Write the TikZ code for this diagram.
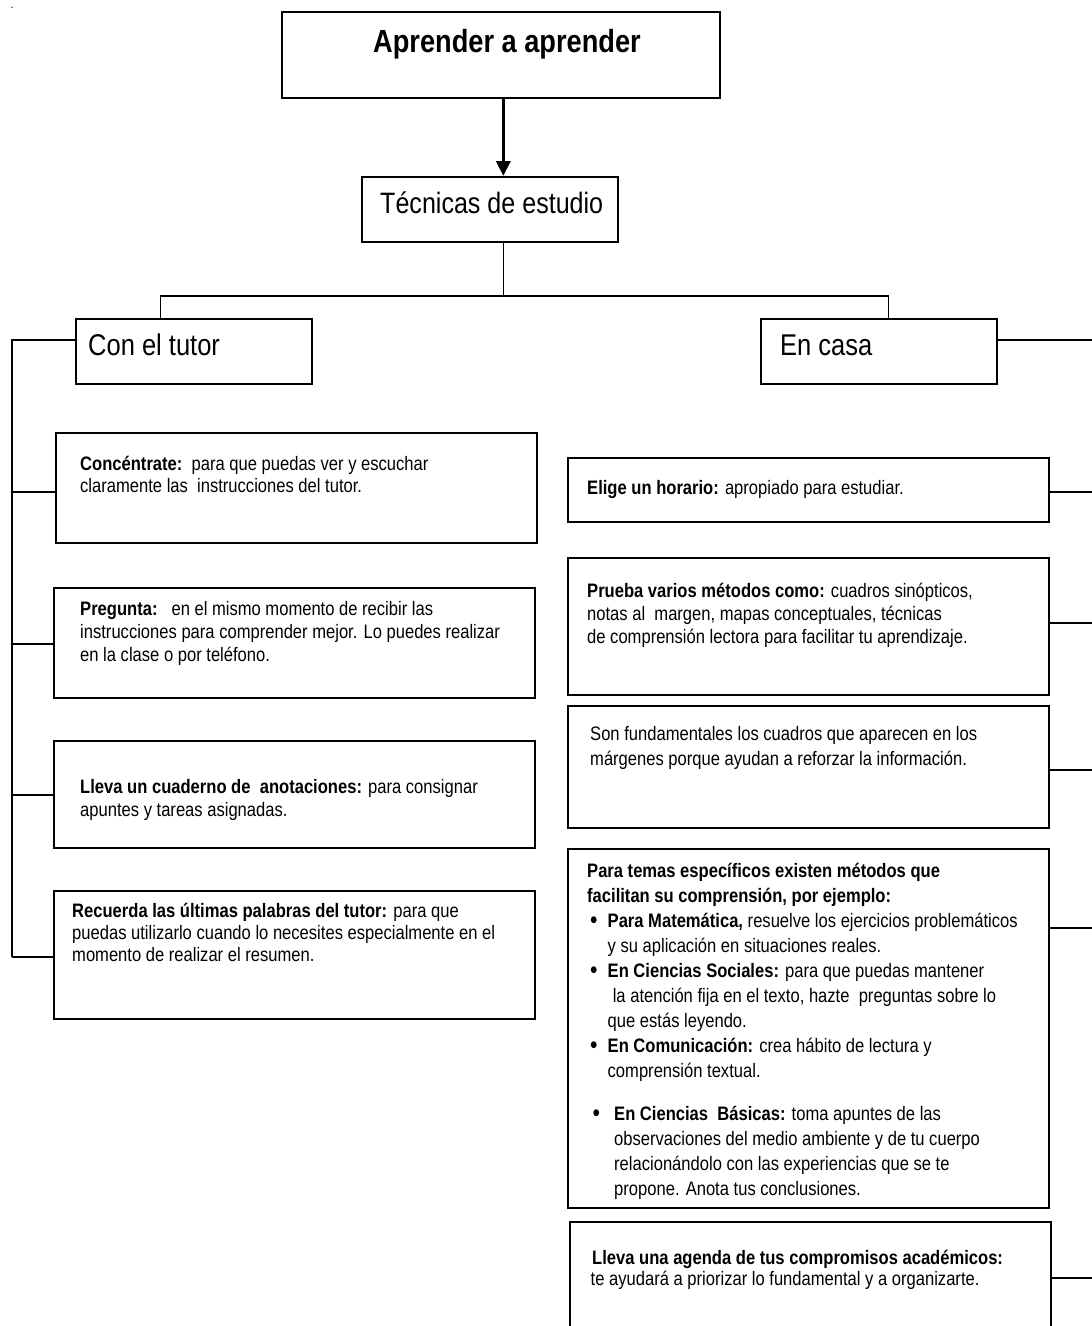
\documentclass[tikz,border=0pt]{standalone}
\usepackage{fontspec}
\setmainfont{Liberation Sans}[FakeStretch=0.85]
\usetikzlibrary{arrows.meta}
\newcommand\fs{\rule{0pt}{20pt}}
\newcommand\bul{\raisebox{-1.5pt}{\fontsize{25pt}{25pt}\selectfont\textbullet}}
\begin{document}
\begin{tikzpicture}[x=1pt,y=-1pt,
  box/.style={draw, line width=1.6pt, inner sep=0pt, anchor=north west},
  conn/.style={line width=1.2pt},
  txt/.style={inner sep=0pt, anchor=north west, align=left},
  head/.style={inner sep=0pt, anchor=base west}]
\useasboundingbox (0,0) rectangle (1092,1326);
\clip (0,0) rectangle (1092,1326);

% dot
\node[inner sep=0pt, font=\fontsize{12pt}{12pt}\selectfont, anchor=base] (dot) at (12,8) {.};

% boxes
\node[box, minimum width=438pt, minimum height=86pt] (title) at (281,11) {};
\node[box, minimum width=256pt, minimum height=65pt] (tec) at (361,176) {};
\node[box, minimum width=236pt, minimum height=65pt] (tutor) at (75,318) {};
\node[box, minimum width=236pt, minimum height=65pt] (casa) at (760,318) {};
\node[box, minimum width=481pt, minimum height=110pt] (b1) at (55,432) {};
\node[box, minimum width=481pt, minimum height=110pt] (b2) at (53,587) {};
\node[box, minimum width=481pt, minimum height=107pt] (b3) at (53,740) {};
\node[box, minimum width=481pt, minimum height=128pt] (b4) at (53,890) {};
\node[box, minimum width=481pt, minimum height=64pt] (r1) at (567,457) {};
\node[box, minimum width=481pt, minimum height=137pt] (r2) at (567,557) {};
\node[box, minimum width=481pt, minimum height=122pt] (r3) at (567,705) {};
\node[box, minimum width=481pt, minimum height=359pt] (r4) at (567,848) {};
\node[box, minimum width=481pt, minimum height=130pt] (r5) at (569,1221) {};

% heading texts
\node[inner sep=0pt, anchor=base, font=\fontsize{32pt}{38pt}\selectfont\bfseries] (titlet) at (507,52) {Aprender a aprender};
\node[head, font=\fontsize{29.5pt}{34pt}\selectfont] (tect) at (380,213) {Técnicas de estudio};
\node[head, font=\fontsize{30pt}{36pt}\selectfont] (tutort) at (88,355) {Con el tutor};
\node[head, font=\fontsize{30pt}{36pt}\selectfont] (casat) at (780,355) {En casa};

% connectors top
\coordinate (jn) at (503.3,296);
\coordinate (jl) at (160.7,296);
\coordinate (jr) at (888.5,296);
\draw[line width=3.5pt, -{Triangle[length=15pt,width=14pt]}] (jn |- title.south) -- (jn |- tec.north);
\draw[conn] (jn |- tec.south) -- (jn);
\draw[conn] (jl |- tutor.north) -- (jl) -- (jr) -- (jr |- casa.north);

% left spine
\coordinate (sp0) at (12,340);
\coordinate (sp1) at (12,492);
\coordinate (sp2) at (12,644);
\coordinate (sp3) at (12,795);
\coordinate (sp4) at (12,957);
\draw[conn] (tutor.west |- sp0) -- (sp0) -- (sp4);
\draw[conn] (sp1) -- (b1.west |- sp1);
\draw[conn] (sp2) -- (b2.west |- sp2);
\draw[conn] (sp3) -- (b3.west |- sp3);
\draw[conn] (sp4) -- (b4.west |- sp4);

% right connectors
\coordinate (rq0) at (1092,340);
\coordinate (rq1) at (1092,492);
\coordinate (rq2) at (1092,623);
\coordinate (rq3) at (1092,770);
\coordinate (rq4) at (1092,928);
\coordinate (rq5) at (1092,1278);
\draw[conn] (casa.east |- rq0) -- (rq0);
\draw[conn] (r1.east |- rq1) -- (rq1);
\draw[conn] (r2.east |- rq2) -- (rq2);
\draw[conn] (r3.east |- rq3) -- (rq3);
\draw[conn] (r4.east |- rq4) -- (rq4);
\draw[conn] (r5.east |- rq5) -- (rq5);

% body texts
\node[txt, font=\fontsize{19.5pt}{22pt}\selectfont] (b1t) at (80,450)
 {\fs\textbf{Concéntrate:}\ \ para que puedas ver y escuchar\\claramente las\ \ instrucciones del tutor.};
\node[txt, font=\fontsize{19.5pt}{23.3pt}\selectfont] (b2t) at (80,595)
 {\fs\textbf{Pregunta:}\hspace{14pt}en el mismo momento de recibir las\\instrucciones para comprender mejor. Lo puedes realizar\\en la clase o por teléfono.};
\node[txt, font=\fontsize{19.5pt}{23.4pt}\selectfont] (b3t) at (80,773)
 {\fs\textbf{Lleva un cuaderno de\ \ anotaciones:} para consignar\\apuntes y tareas asignadas.};
\node[txt, font=\fontsize{19.5pt}{22.3pt}\selectfont] (b4t) at (72,897)
 {\fs\textbf{Recuerda las últimas palabras del tutor:} para que\\puedas utilizarlo cuando lo necesites especialmente en el\\momento de realizar el resumen.};

\node[txt, font=\fontsize{19.5pt}{23pt}\selectfont] (r1t) at (587,474)
 {\fs\textbf{Elige un horario:} apropiado para estudiar.};
\node[txt, font=\fontsize{19.5pt}{23.3pt}\selectfont] (r2t) at (587,577)
 {\fs\textbf{Prueba varios métodos como:} cuadros sinópticos,\\notas al\ \ margen, mapas conceptuales, técnicas\\de comprensión lectora para facilitar tu aprendizaje.};
\node[txt, font=\fontsize{19.5pt}{25pt}\selectfont] (r3t) at (590,720)
 {\fs Son fundamentales los cuadros que aparecen en los\\márgenes porque ayudan a reforzar la información.};
\node[txt, font=\fontsize{19.5pt}{25pt}\selectfont] (r4t) at (587,857)
 {\fs\textbf{Para temas específicos existen métodos que}\\
  \textbf{facilitan su comprensión, por ejemplo:}\\
  \hspace*{3pt}\makebox[17.5pt][l]{\bul}\textbf{Para Matemática,} resuelve los ejercicios problemáticos\\
  \hspace*{20.5pt}y su aplicación en situaciones reales.\\
  \hspace*{3pt}\makebox[17.5pt][l]{\bul}\textbf{En Ciencias Sociales:} para que puedas mantener\\
  \hspace*{25.6pt}la atención fija en el texto, hazte\ \ preguntas sobre lo\\
  \hspace*{20.5pt}que estás leyendo.\\
  \hspace*{3pt}\makebox[17.5pt][l]{\bul}\textbf{En Comunicación:} crea hábito de lectura y\\
  \hspace*{20.5pt}comprensión textual.\\[18pt]
  \hspace*{5.5pt}\makebox[21.5pt][l]{\bul}\textbf{En Ciencias\ \ Básicas:} toma apuntes de las\\
  \hspace*{27pt}observaciones del medio ambiente y de tu cuerpo\\
  \hspace*{27pt}relacionándolo con las experiencias que se te\\
  \hspace*{27pt}propone. Anota tus conclusiones.};
\node[txt, font=\fontsize{19.5pt}{21.7pt}\selectfont] (r5t) at (592,1244)
 {\fs\textbf{Lleva una agenda de tus compromisos académicos:}\\\hspace*{-1.5pt}te ayudará a priorizar lo fundamental y a organizarte.};
\end{tikzpicture}
\end{document}
